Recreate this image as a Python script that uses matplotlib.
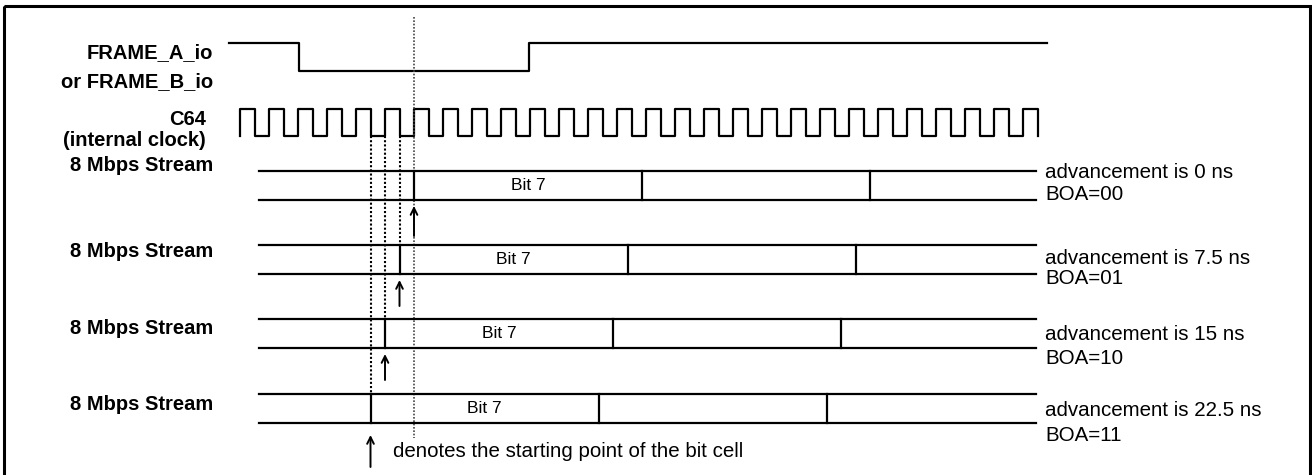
import matplotlib.pyplot as plt
from matplotlib.patches import Rectangle
import numpy as np

plt.rcParams['font.family'] = ['Liberation Sans', 'DejaVu Sans']

# labels
frame_label = ["FRAME_A_io", "or FRAME_B_io"]
clock_label = ["C64", "(internal clock)"]
stream_label = "8 Mbps Stream"
bit_label = "Bit 7"
legend_label = "denotes the starting point of the bit cell"

# bit offset advancement of each stream
advance_ns = [0, 7.5, 15, 22.5]
boa_code = ["00", "01", "10", "11"]

# timing, diagram units (1 unit = 1 px)
clk_start = 240
clk_period = 29.0
clk_cycles = 28
half_clk_ns = 7.5
frame_x = [229, 299, 529, 1047]   # start, falling edge, rising edge, end
bit_start = 414                    # bit 7 start for 0 ns advancement
bit_cell = 228

# rows
frame_hi, frame_lo = 43, 71
clk_hi, clk_lo = 109, 136
stream_top = [171, 245, 319, 394]
stream_h = 29
stream_x = [259, 1036]
stream_label_y = [171, 257, 334, 410]
note_y = [(178, 200), (264, 284), (340, 364), (416, 441)]

fig = plt.figure(figsize=(13.12, 4.75), dpi=100)
ax = fig.add_axes([0, 0, 1, 1])
ax.set_xlim(0, 1312)
ax.set_ylim(475, 0)
ax.axis('off')

lw = 1.6
lab = dict(ha='right', va='baseline', fontsize=14.5, fontweight='bold')
txt = dict(ha='left', va='baseline', fontsize=14.8)
arrow = dict(arrowstyle='->', lw=1.4, color='black', mutation_scale=12,
             shrinkA=0, shrinkB=0)

# border
ax.add_patch(Rectangle((3.5, 6), 1306, 480, fill=False, lw=2.2, ec='black'))

# frame signal
fx = [frame_x[0], frame_x[1], frame_x[1], frame_x[2], frame_x[2], frame_x[3]]
fy = [frame_hi, frame_hi, frame_lo, frame_lo, frame_hi, frame_hi]
ax.plot(fx, fy, color='black', lw=lw)
ax.text(213, 58, frame_label[0], **lab)
ax.text(213, 87, frame_label[1], **lab)

# clock
cx, cy = [], []
for k in range(clk_cycles):
    r = clk_start + k * clk_period
    f = r + clk_period / 2
    cx += [r, r, f, f]
    cy += [clk_lo, clk_hi, clk_hi, clk_lo]
ax.plot(cx, cy, color='black', lw=lw)
ax.text(206, 125, clock_label[0], **lab)
ax.text(206, 146, clock_label[1], **lab)

# reference dotted line
ax.plot([bit_start, bit_start], [17, 438], color='#444444', lw=1.2,
        linestyle=(0, (1, 1)))

for i, adv in enumerate(advance_ns):
    top = stream_top[i]
    bot = top + stream_h
    b0 = bit_start - adv / half_clk_ns * clk_period / 2
    ax.plot(stream_x, [top, top], color='black', lw=lw)
    ax.plot(stream_x, [bot, bot], color='black', lw=lw)
    b = b0
    while b < stream_x[1]:
        ax.plot([b, b], [top, bot], color='black', lw=lw)
        b += bit_cell
    ax.text(b0 + bit_cell / 2, (top + bot) / 2, bit_label, ha='center',
            va='center', fontsize=12.5)
    ax.text(213, stream_label_y[i], stream_label, **lab)
    ax.text(1045, note_y[i][0], f"advancement is {adv:g} ns", **txt)
    ax.text(1045, note_y[i][1], f"BOA={boa_code[i]}", **txt)
    if i > 0:
        ax.plot([b0, b0], [clk_lo, top], color='black', lw=1.5,
                linestyle=(0, (1, 1)))
    if i < len(advance_ns) - 1:
        tail = bot + 36 if i == 0 else bot + 32
        ax.annotate('', xy=(b0, bot + 6), xytext=(b0, tail), arrowprops=arrow)

# legend arrow
b_last = bit_start - advance_ns[-1] / half_clk_ns * clk_period / 2
ax.annotate('', xy=(b_last, 435), xytext=(b_last, 467), arrowprops=arrow)
ax.text(393, 457, legend_label, **txt)

fig.savefig('out.png', dpi=100)
